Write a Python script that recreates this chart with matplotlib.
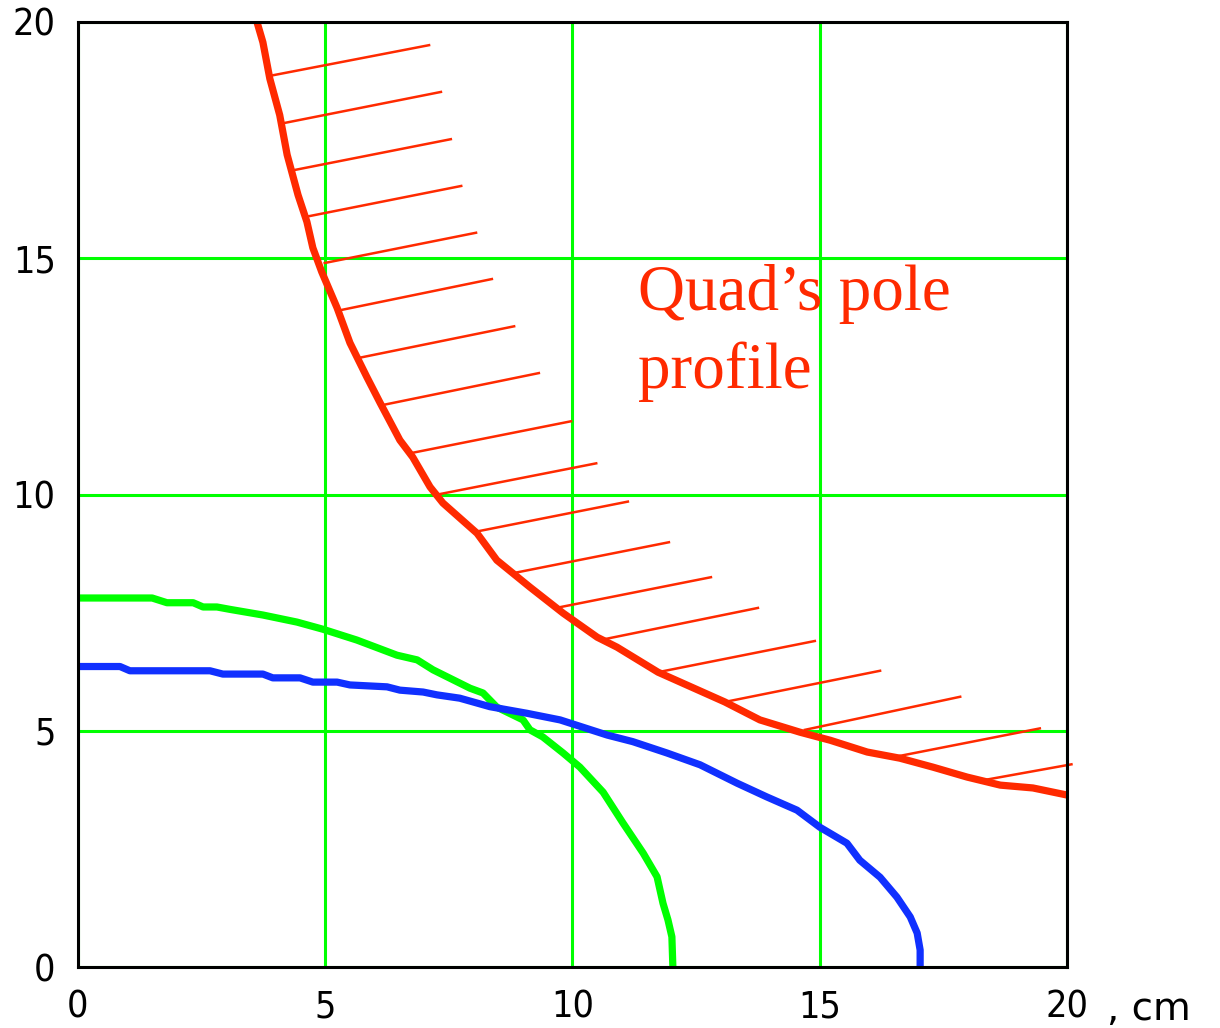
import numpy as np
import matplotlib.pyplot as plt

# pole profile (red)
red_x = [3.62, 3.74, 3.88, 4.08, 4.23, 4.45, 4.63, 4.75, 4.93, 5.24, 5.50, 5.84, 6.11, 6.51, 6.77,
         7.12, 7.38, 8.07, 8.47, 9.14, 9.81, 10.50, 10.90, 11.73, 13.08, 13.79, 14.60, 15.21,
         15.96, 16.62, 17.29, 17.98, 18.65, 19.31, 20.0]
red_y = [20.0, 19.57, 18.80, 18.03, 17.19, 16.34, 15.77, 15.22, 14.71, 13.95, 13.21, 12.49, 11.94,
         11.15, 10.79, 10.16, 9.82, 9.18, 8.61, 8.04, 7.49, 6.98, 6.77, 6.24, 5.61, 5.23, 4.97,
         4.80, 4.55, 4.42, 4.23, 4.02, 3.85, 3.79, 3.64]

# green curve
green_x = [0, 1.50, 1.80, 2.33, 2.53, 2.81, 3.07, 3.74, 4.43, 4.95, 5.64, 6.45, 6.86, 7.18, 7.93,
           8.19, 8.47, 9.00, 9.14, 9.40, 9.81, 10.15, 10.62, 11.02, 11.43, 11.71, 11.83, 11.93,
           12.01, 12.03]
green_y = [7.81, 7.81, 7.71, 7.71, 7.62, 7.62, 7.57, 7.45, 7.30, 7.15, 6.92, 6.60, 6.50, 6.29, 5.90,
           5.80, 5.50, 5.23, 5.02, 4.87, 4.53, 4.23, 3.70, 3.05, 2.41, 1.91, 1.35, 1.00, 0.64, 0.0]

# blue curve
blue_x = [0, 0.85, 1.05, 2.67, 2.93, 3.74, 3.94, 4.49, 4.75, 5.24, 5.50, 6.25, 6.51, 6.98, 7.26,
          7.72, 8.33, 9.08, 9.75, 10.70, 11.22, 11.91, 12.58, 13.33, 13.93, 14.54, 15.00, 15.55,
          15.81, 16.22, 16.56, 16.83, 16.97, 17.03, 17.03]
blue_y = [6.36, 6.36, 6.27, 6.27, 6.20, 6.20, 6.12, 6.12, 6.03, 6.03, 5.97, 5.93, 5.86, 5.82, 5.76,
          5.69, 5.51, 5.37, 5.23, 4.91, 4.77, 4.53, 4.28, 3.89, 3.60, 3.32, 2.96, 2.62, 2.26,
          1.90, 1.48, 1.06, 0.72, 0.36, 0.0]

# hatch strokes on the pole side
hatch_x0 = [3.88, 4.16, 4.39, 4.67, 4.99, 5.30, 5.72, 6.19, 6.75, 7.32, 8.03, 8.82, 9.67, 10.56,
            11.73, 13.08, 14.70, 16.48, 18.34]
hatch_y0 = [18.86, 17.86, 16.87, 15.89, 14.90, 13.90, 12.90, 11.90, 10.88, 10.01, 9.21, 8.34, 7.60,
            6.92, 6.24, 5.61, 5.02, 4.44, 3.96]
hatch_x1 = [7.10, 7.34, 7.54, 7.75, 8.05, 8.37, 8.82, 9.32, 9.97, 10.48, 11.12, 11.95, 12.80, 13.75,
            14.90, 16.22, 17.84, 19.45, 20.09]
hatch_y1 = [19.51, 18.52, 17.52, 16.53, 15.54, 14.56, 13.56, 12.57, 11.55, 10.66, 9.85, 8.99, 8.25,
            7.60, 6.90, 6.27, 5.72, 5.05, 4.29]

ticks = [0, 5, 10, 15, 20]
tick_labels = ['0', '5', '10', '15', '20']

RED = '#ff2a00'
GREEN = '#00ff00'
BLUE = '#1030ff'

fig = plt.figure(figsize=(12.2, 10.28), dpi=100)
ax = fig.add_axes([0.0639, 0.0593, 0.8107, 0.9193])

for x0, y0, x1, y1 in zip(hatch_x0, hatch_y0, hatch_x1, hatch_y1):
    ax.plot([x0, x1], [y0, y1], color=RED, lw=1.8, clip_on=False, zorder=3)

ax.plot(green_x, green_y, color=GREEN, lw=5.2, zorder=4)
ax.plot(blue_x, blue_y, color=BLUE, lw=5.2, zorder=4)
ax.plot(red_x, red_y, color=RED, lw=5.2, zorder=5)

ax.text(11.32, 13.90, 'Quad\u2019s pole', color=RED, fontsize=47,
        family='Liberation Serif', ha='left', va='baseline')
ax.text(11.32, 12.25, 'profile', color=RED, fontsize=47,
        family='Liberation Serif', ha='left', va='baseline')

ax.set_xlim(0, 20)
ax.set_ylim(0, 20)
ax.set_xticks(ticks)
ax.set_yticks(ticks)
ax.set_xticklabels(tick_labels, family='DejaVu Sans', fontstretch='condensed', fontsize=27)
ax.set_yticklabels(tick_labels, family='DejaVu Sans', fontstretch='condensed', fontsize=27)
ax.tick_params(length=0)
ax.tick_params(axis='x', pad=16)
ax.tick_params(axis='y', pad=16)
ax.grid(True, color=GREEN, lw=2.2)
ax.set_axisbelow(True)
for sp in ax.spines.values():
    sp.set_linewidth(2.2)
    sp.set_color('black')
    sp.set_zorder(6)

ax.annotate(', cm', xy=(20, 0), xycoords='data', xytext=(40, -53),
            textcoords='offset pixels', fontsize=28, family='DejaVu Sans',
            ha='left', va='baseline', annotation_clip=False)

fig.savefig('out.png', dpi=100)
